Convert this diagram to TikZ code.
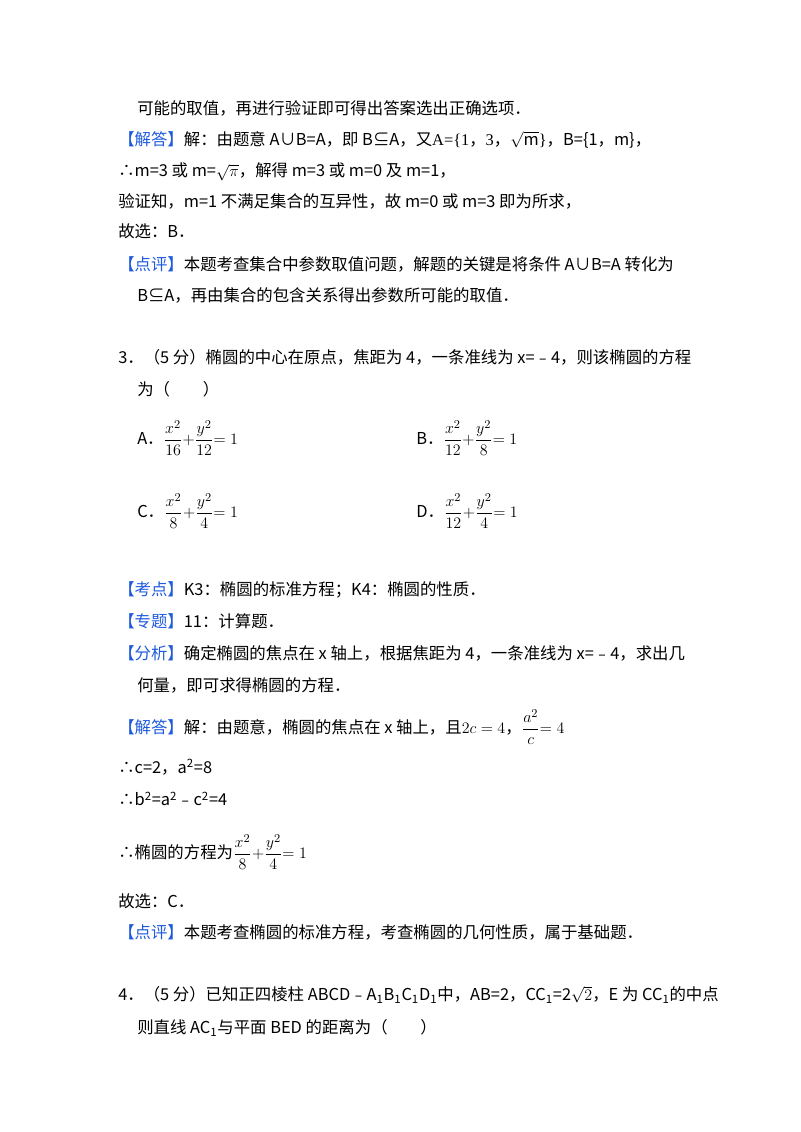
\documentclass[tikz,border=0pt]{standalone}
\usepackage{amsmath}
\usepackage{fontspec}
\setmainfont{Noto Sans CJK SC}
\newfontfamily\serf{Liberation Serif}
\definecolor{kb}{RGB}{30,90,220}
\begin{document}
\begin{tikzpicture}[x=0.75pt,y=-0.75pt,
 t/.style={anchor=west,inner sep=0pt,font=\fontsize{12.3pt}{14pt}\selectfont}]
\useasboundingbox (0,0) rectangle (800,1132);
\newcommand{\kb}[1]{\textcolor{kb}{【#1】}}
\newcommand{\fr}[2]{$\dfrac{#1}{#2}$}
\node[t] (l1) at (137,108) {可能的取值，再进行验证即可得出答案选出正确选项．};
\node[t] (l2) at (118,140) {\kb{解答}解：由题意 A∪B=A，即 B⊆A，又{\serf A=\{1}，{\serf 3}，$\sqrt{\mathrm{m}}${\serf\}}，B=\{1，m\}，};
\node[t] (l3) at (118,172) {∴m=3 或 m=$\sqrt{\pi}$，解得 m=3 或 m=0 及 m=1，};
\node[t] (l4) at (118,201) {验证知，m=1 不满足集合的互异性，故 m=0 或 m=3 即为所求，};
\node[t] (l5) at (118,231) {故选：B．};
\node[t] (l6) at (118,264) {\kb{点评}本题考查集合中参数取值问题，解题的关键是将条件 A∪B=A 转化为};
\node[t] (l7) at (137,295) {B⊆A，再由集合的包含关系得出参数所可能的取值．};
\node[t] (l8) at (118,357) {3．（5 分）椭圆的中心在原点，焦距为 4，一条准线为 x=﹣4，则该椭圆的方程};
\node[t] (l9) at (137,389) {为（\quad\quad）};
\node[t] (oa) at (137,438) {A．\fr{x^2}{16}$+$\fr{y^2}{12}$=1$};
\node[t] (ob) at (416,438) {B．\fr{x^2}{12}$+$\fr{y^2}{8}$=1$};
\node[t] (oc) at (137,511) {C．\fr{x^2}{8}$+$\fr{y^2}{4}$=1$};
\node[t] (od) at (416,511) {D．\fr{x^2}{12}$+$\fr{y^2}{4}$=1$};
\node[t] (k1) at (118,590) {\kb{考点}K3：椭圆的标准方程；K4：椭圆的性质．};
\node[t] (k2) at (118,621) {\kb{专题}11：计算题．};
\node[t] (k3) at (118,653) {\kb{分析}确定椭圆的焦点在 x 轴上，根据焦距为 4，一条准线为 x=﹣4，求出几};
\node[t] (k4) at (137,685) {何量，即可求得椭圆的方程．};
\node[t] (k5) at (118,727) {\kb{解答}解：由题意，椭圆的焦点在 x 轴上，且$2c=4$，\fr{a^2}{c}$=4$};
\node[t] (k6) at (118,767) {∴c=2，a\textsuperscript{2}=8};
\node[t] (k7) at (118,799) {∴b\textsuperscript{2}=a\textsuperscript{2}﹣c\textsuperscript{2}=4};
\node[t] (k8) at (118,852) {∴椭圆的方程为\fr{x^2}{8}$+$\fr{y^2}{4}$=1$};
\node[t] (k9) at (118,901) {故选：C．};
\node[t] (k10) at (118,932) {\kb{点评}本题考查椭圆的标准方程，考查椭圆的几何性质，属于基础题．};
\node[t] (q4) at (118,995) {4．（5 分）已知正四棱柱 ABCD﹣A\textsubscript{1}B\textsubscript{1}C\textsubscript{1}D\textsubscript{1}中，AB=2，CC\textsubscript{1}=2$\sqrt{2}$，E 为 CC\textsubscript{1}的中点};
\node[t] (q5) at (137,1028) {则直线 AC\textsubscript{1}与平面 BED 的距离为（\quad\quad）};
\end{tikzpicture}
\end{document}
